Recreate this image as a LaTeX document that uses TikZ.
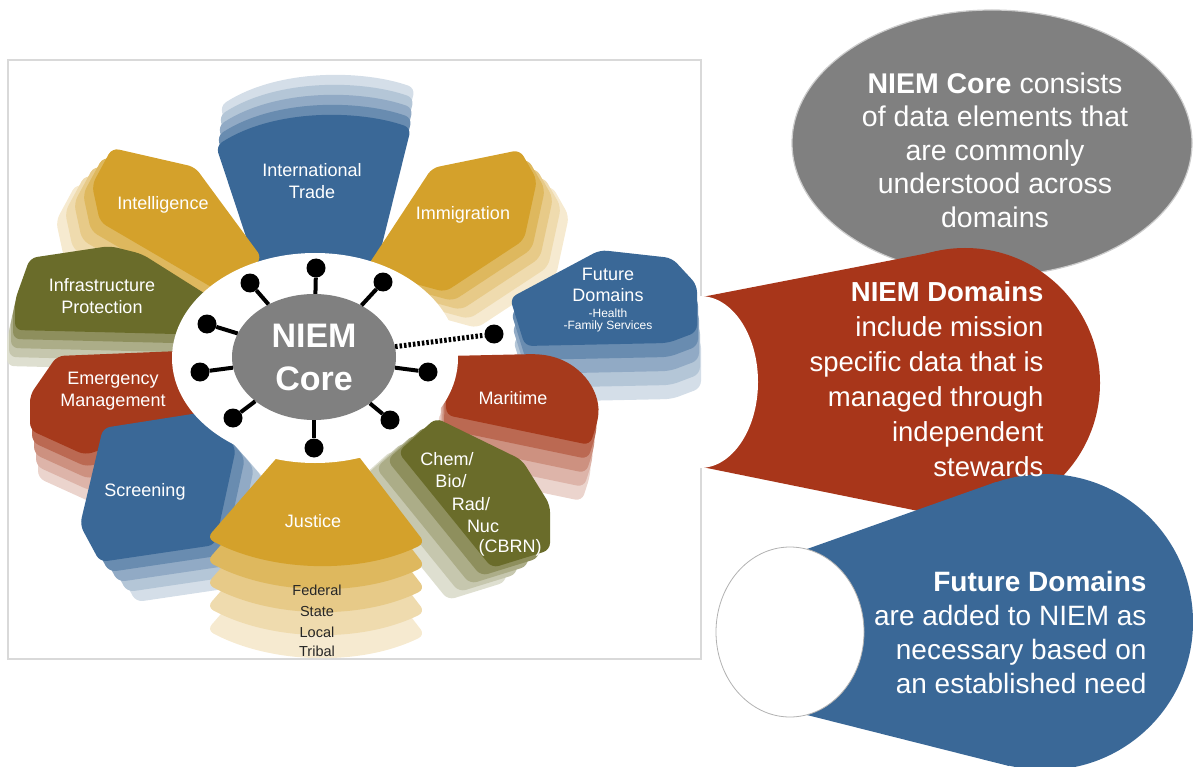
\documentclass[tikz,border=0pt]{standalone}
\usepackage{fontspec}
\setmainfont{Liberation Sans}
\usepackage{tikz}
\usetikzlibrary{positioning}
\usetikzlibrary{shapes.geometric}
\usepackage{xcolor}
\definecolor{DomGold}{HTML}{D4A12B}
\definecolor{DomBlue}{HTML}{3A6897}
\definecolor{DomOlive}{HTML}{6A6C2A}
\definecolor{DomRed}{HTML}{A63A1C}
\definecolor{ConeRed}{HTML}{A8361A}
\definecolor{CoreGray}{HTML}{808080}

\tikzset{
  petalfill/.style={rounded corners=7pt},
  domtext/.style={text=white,align=center,font=\fontsize{18}{21.5}\selectfont},
  leveltext/.style={text=black!85,font=\fontsize{14.5}{16}\selectfont},
  dot/.style={circle,fill=black,inner sep=0pt,minimum size=19pt},
  spoke/.style={line width=4pt},
  core/.style={ellipse,fill=CoreGray,inner sep=0pt,minimum width=164pt,minimum height=126pt,
    text=white,align=center,font=\bfseries\fontsize{34}{43}\selectfont},
  bigtext/.style={text=white,font=\fontsize{28.5}{33.5}\selectfont}
}

% colour, layer shift x, layer shift y, outline
\newcommand{\domainlayers}[4]{%
  \fill[petalfill,#1!22!white,shift={(4*#2,4*#3)}] #4;
  \fill[petalfill,#1!38!white,shift={(3*#2,3*#3)}] #4;
  \fill[petalfill,#1!56!white,shift={(2*#2,2*#3)}] #4;
  \fill[petalfill,#1!76!white,shift={(#2,#3)}] #4;
  \fill[petalfill,#1] #4;}

\begin{document}
\begin{tikzpicture}[x=1pt,y=-1pt]
  \useasboundingbox (0,0) rectangle (1193,767);

  \draw[gray!30,line width=1.8pt] (8,60) rectangle (701,659);

  \filldraw[fill=CoreGray,draw=gray!40,line width=1.2pt] (992,143) ellipse [x radius=200,y radius=133];
  \fill[ConeRed] (702,297) -- (939,251) -- (965,383) -- (938,515) -- (702,467) -- cycle;
  \fill[ConeRed] (965,383) circle [radius=135];
  \fill[white] (700,382) ellipse [x radius=58,y radius=86];
  \fill[DomBlue] (807,549) -- (996,482) -- (1045,622) -- (1009,766) -- (807,715) -- cycle;
  \fill[DomBlue] (1045,622) circle [radius=148];
  \filldraw[fill=white,draw=gray!60,line width=0.8pt] (790,632) ellipse [x radius=74,y radius=85];

  \node[bigtext,align=center] (coretext) at (995,150) {\textbf{NIEM Core} consists\\of data elements that\\are commonly\\understood across\\domains};
  \node[bigtext,align=right,anchor=east,font=\fontsize{27.5}{35}\selectfont] (domaintext) at (1047,379) {\textbf{NIEM Domains}\\include mission\\specific data that is\\managed through\\independent\\stewards};
  \node[bigtext,align=right,anchor=east,font=\fontsize{28}{34}\selectfont] (futuretext) at (1150,632) {\textbf{Future Domains}\\are added to NIEM as\\necessary based on\\an established need};

  \domainlayers{DomBlue}{1}{-10}{(262,285) -- (216,146) .. controls (275,108) and (360,110) .. (411,128) -- (372,285) -- cycle}
  \domainlayers{DomGold}{-9}{9}{(92,185) -- (112,148) -- (195,167) -- (262,258) -- (225,295) -- (100,222) -- cycle}
  \domainlayers{DomOlive}{-2}{9}{(15,300) -- (30,258) -- (110,246) -- (142,254) -- (215,300) -- (215,335) -- (15,330) -- cycle}
  \domainlayers{DomRed}{2}{12}{(30,395) -- (57,356) -- (205,350) -- (205,415) -- (85,455) -- (30,430) -- cycle}
  \domainlayers{DomGold}{8}{9}{(365,270) -- (432,168) -- (520,150) -- (537,180) -- (524,240) -- (445,292) -- cycle}
  \domainlayers{DomBlue}{1}{14}{(510,298) -- (600,250) -- (672,258) -- (697,285) -- (697,332) -- (668,343) -- (525,346) -- cycle}
  \domainlayers{DomRed}{-2}{14}{(447,356) -- (537,354) .. controls (580,360) and (600,390) .. (598,420) -- (590,445) -- (446,415) -- cycle}
  \domainlayers{DomOlive}{-11}{8}{(398,452) -- (436,418) -- (522,460) -- (550,505) -- (550,550) -- (492,568) -- cycle}
  \domainlayers{DomBlue}{9}{10}{(80,525) -- (103,428) -- (205,412) -- (236,448) -- (215,545) -- (100,562) -- cycle}
  \domainlayers{DomGold}{0}{23}{(288,445) -- (207,538) .. controls (270,572) and (360,575) .. (425,543) -- (350,445) -- cycle}

  \fill[white] (315,358) ellipse [x radius=143,y radius=105];

  \node[core] (core) at (314,357) {NIEM\\Core};
  \node[dot] (d1) at (316,268) {};
  \node[dot] (d2) at (250,283) {};
  \node[dot] (d3) at (383,282) {};
  \node[dot] (d4) at (207,324) {};
  \node[dot] (d5) at (200,372) {};
  \node[dot] (d6) at (233,418) {};
  \node[dot] (d7) at (314,448) {};
  \node[dot] (d8) at (390,420) {};
  \node[dot] (d9) at (428,372) {};
  \node[dot] (d10) at (494,334) {};
  \draw[spoke] (core) -- (d1);
  \draw[spoke] (core) -- (d2);
  \draw[spoke] (core) -- (d3);
  \draw[spoke] (core) -- (d4);
  \draw[spoke] (core) -- (d5);
  \draw[spoke] (core) -- (d6);
  \draw[spoke] (core) -- (d7);
  \draw[spoke] (core) -- (d8);
  \draw[spoke] (core) -- (d9);
  \draw[line width=5pt,dash pattern=on 2.5pt off 2pt] (core) -- (d10);

  \node[domtext] (trade) at (312,181) {International\\Trade};
  \node[domtext] (intel) at (163,205) {Intelligence};
  \node[domtext] (immig) at (463,215) {Immigration};
  \node[domtext] (infra) at (102,296) {Infrastructure\\Protection};
  \node[domtext] (emerg) at (113,391) {Emergency\\Management};
  \node[domtext] (screen) at (145,492) {Screening};
  \node[domtext] (justice) at (313,521) {Justice};
  \node[domtext] (maritime) at (513,398) {Maritime};
  \node[domtext] (future) at (608,285) {Future\\Domains};
  \node[domtext,font=\fontsize{12}{12}\selectfont] (futurelist) at (608,320) {-Health\\-Family Services};
  \node[domtext] (chem) at (447,459) {Chem/};
  \node[domtext] (bio) at (451,481) {Bio/};
  \node[domtext] (rad) at (471,504) {Rad/};
  \node[domtext] (nuc) at (483,526) {Nuc};
  \node[domtext] (cbrn) at (510,548) {(CBRN)};
  \node[leveltext] (federal) at (317,590) {Federal};
  \node[leveltext] (state) at (317,612) {State};
  \node[leveltext] (local) at (317,632) {Local};
  \node[leveltext] (tribal) at (317,651) {Tribal};
\end{tikzpicture}
\end{document}
